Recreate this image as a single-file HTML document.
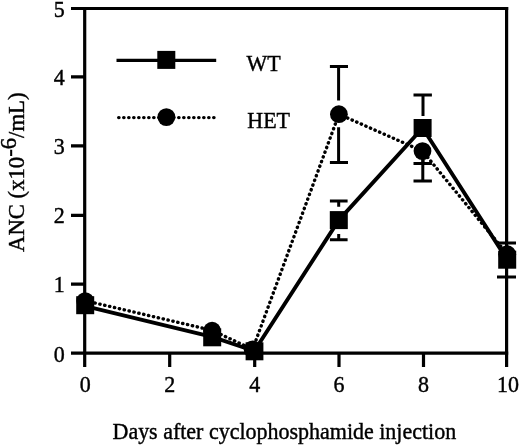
<!DOCTYPE html>
<html><head><meta charset="utf-8">
<style>
html,body{margin:0;padding:0;background:#fff;width:520px;height:446px;overflow:hidden}
svg{display:block}
text{font-family:"Liberation Serif",serif;font-size:22px;fill:#000;stroke:#000;stroke-width:0.4px}
svg{filter:blur(0.35px)}
</style></head>
<body>
<svg width="520" height="446" viewBox="0 0 520 446">
<g stroke="#000" stroke-width="3.2" fill="none" stroke-linecap="butt">
  <!-- frame -->
  <path d="M71 8.5H508.2"/>
  <path d="M71 353.2H508.2"/>
  <path d="M84.7 7V367"/>
  <path d="M506.6 7V367"/>
  <!-- y ticks -->
  <path d="M71 76.9H84.7M71 145.9H84.7M71 215.3H84.7M71 284.2H84.7"/>
  <!-- x ticks -->
  <path d="M169.7 353.2V367M254.7 353.2V367M339 353.2V367M423.5 353.2V367"/>
</g>
<!-- tick labels -->
<g text-anchor="end">
  <text transform="translate(64.8 16.5) scale(1 1.07)">5</text>
  <text transform="translate(64.8 85) scale(1 1.07)">4</text>
  <text transform="translate(64.8 154) scale(1 1.07)">3</text>
  <text transform="translate(64.8 223.3) scale(1 1.07)">2</text>
  <text transform="translate(64.8 292.2) scale(1 1.07)">1</text>
  <text transform="translate(64.8 361.5) scale(1 1.07)">0</text>
</g>
<g text-anchor="middle">
  <text transform="translate(85.2 392.3) scale(1 1.07)">0</text>
  <text transform="translate(169.7 392.3) scale(1 1.07)">2</text>
  <text transform="translate(254.7 392.3) scale(1 1.07)">4</text>
  <text transform="translate(339 392.3) scale(1 1.07)">6</text>
  <text transform="translate(423.5 392.3) scale(1 1.07)">8</text>
  <text transform="translate(507.9 392.3) scale(1 1.07)">10</text>
</g>
<text transform="translate(112.5 439.4) scale(1 1.07)">Days after cyclophosphamide injection</text>
<text transform="translate(23.5 252) rotate(-90)" style="font-size:22.7px">ANC (x10<tspan dy="-6.3">-</tspan><tspan dy="-0.9">6</tspan><tspan dy="7.2">/mL)</tspan></text>

<!-- legend -->
<path d="M116.5 60.35H216.2" stroke="#000" stroke-width="3.1"/>
<rect x="157.3" y="50.9" width="18" height="18" fill="#000"/>
<text transform="translate(246.6 71) scale(1 1.07)">WT</text>
<path d="M118.7 117.6H216" stroke="#000" stroke-width="3.4" stroke-dasharray="0.3 4.7" stroke-linecap="round"/>
<circle cx="166.4" cy="117.1" r="8.9" fill="#000"/>
<text transform="translate(247.3 128) scale(1 1.07)">HET</text>

<!-- error bars -->
<g stroke="#000" stroke-width="3" fill="none">
  <!-- HET d6 -->
  <path d="M329.9 66.5H348M338.6 66.5V100.4M338.6 127.3V162.5M329.9 162.5H348"/>
  <!-- WT d6 -->
  <path d="M329.9 200.9H347.6M338.7 200.9V206.7M338.7 233.9V239.8M329.9 239.8H347.6"/>
  <!-- WT d8 -->
  <path d="M413.5 95H431.9M423 95V116M423 150V163.6M413.5 163.6H431.9"/>
  <!-- HET d8 -->
  <path d="M422.8 158V181M413.5 181H431.9"/>
  <!-- d10 -->
  <path d="M497 243H516M497 277H516"/>
</g>

<!-- HET dotted data -->
<path d="M85.2 300.7L212 330.3L252.6 349.4L338.9 114.2L422.5 151.1L507.2 254.2" stroke="#000" stroke-width="3.4" fill="none" stroke-dasharray="0.3 4.7" stroke-linecap="round"/>
<!-- WT solid data -->
<path d="M85.2 306.2L212.2 336.8L254.3 351L338.8 220.1L422.6 128L507.2 259.7" stroke="#000" stroke-width="3.9" fill="none" stroke-linejoin="round"/>

<!-- HET circles -->
<g fill="#000">
  <circle cx="85.2" cy="301.1" r="8.9"/>
  <circle cx="212.1" cy="330.7" r="8.9"/>
  <circle cx="252.6" cy="349.4" r="8.9"/>
  <circle cx="338.9" cy="114.2" r="8.9"/>
  <circle cx="422.5" cy="151.1" r="8.9"/>
  <circle cx="507.2" cy="254.2" r="8.9"/>
</g>
<!-- WT squares -->
<g fill="#000">
  <rect x="76.2" y="296.2" width="18" height="18"/>
  <rect x="203.2" y="328.3" width="18" height="18"/>
  <rect x="245.6" y="342.3" width="17.8" height="18"/>
  <rect x="329.8" y="211.1" width="18" height="18"/>
  <rect x="413.6" y="119" width="18" height="18"/>
  <rect x="498.2" y="250.7" width="18" height="18"/>
</g>
</svg>
</body></html>
